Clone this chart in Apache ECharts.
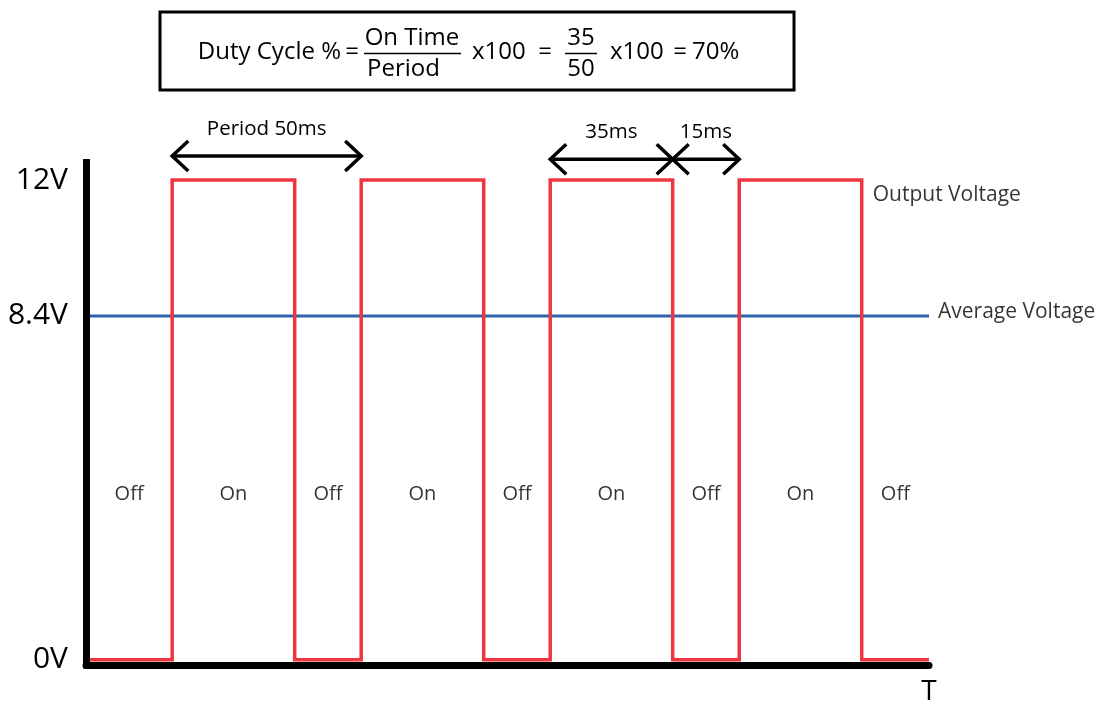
<!DOCTYPE html>
<html><head><meta charset="utf-8">
<script src="https://cdn.jsdelivr.net/npm/echarts@6/dist/echarts.min.js"></script>
<style>html,body{margin:0;padding:0;background:#fff}#chart{width:1097px;height:706px}</style>
</head><body><div id="chart"></div>
<script>
// ---- data (time in ms, voltage in V) ----
const edgeTimes = [0, 22.8, 55.2, 72.8, 105.2, 122.8, 155.2, 172.8, 205.2, 223];
const levels = [0, 12, 0, 12, 0, 12, 0, 12, 0];
const stateNames = ['Off', 'On', 'Off', 'On', 'Off', 'On', 'Off', 'On', 'Off'];
const averageLevel = 8.6;            // position of the drawn "8.4V" average line
const yTickValues = [0, 8.6, 12];
const yTickLabels = ['0V', '8.4V', '12V'];
const xEndLabel = 'T';
const arrowStarts = [22.8, 122.8, 155.2];
const arrowEnds = [72.8, 155.2, 172.8];
const arrowLevels = [12.6, 12.52, 12.52];
const arrowTexts = ['Period 50ms', '35ms', '15ms'];
const stateLabelLevel = 4.15;
const seriesNames = ['Output Voltage', 'Average Voltage'];

const FONT = "'Open Sans', sans-serif";
const RED = '#EF3640';
const BLUE = '#2E62B0';

// build step wave
const wave = [];
for (let i = 0; i < levels.length; i++) {
  wave.push([edgeTimes[i], levels[i]]);
  wave.push([edgeTimes[i + 1], levels[i]]);
}
const tEnd = edgeTimes[edgeTimes.length - 1];
const stateData = stateNames.map((n, i) => [(edgeTimes[i] + edgeTimes[i + 1]) / 2, stateLabelLevel, n]);
const lastHigh = levels.lastIndexOf(12);
const arrowData = arrowStarts.map((s, i) => [s, arrowEnds[i], arrowLevels[i]]);

const chart = echarts.init(document.getElementById('chart'));
const arrowStyle = { stroke: '#000', lineWidth: 3.5, fill: null, lineCap: 'butt' };
const F = '24px ' + FONT;
const txt = (x, y, text, align) => ({ type: 'text', x, y,
  style: { text, font: F, fill: '#000', align: align || 'center', verticalAlign: 'middle' } });

chart.setOption({
  animation: false,
  backgroundColor: '#fff',
  grid: { left: 86, right: 168, top: 162.5, bottom: 37 },
  xAxis: {
    type: 'value', min: 0, max: tEnd, z: 5,
    axisLine: { show: true, onZero: false, lineStyle: { color: '#000', width: 7 } },
    axisTick: { show: false },
    splitLine: { show: false },
    axisLabel: {
      customValues: [tEnd], formatter: () => xEndLabel,
      margin: 13, color: '#000', fontSize: 28, fontFamily: FONT
    }
  },
  yAxis: {
    type: 'value', min: -0.1315, max: 12.437, z: 5,
    axisLine: { show: true, lineStyle: { color: '#000', width: 7, cap: 'square' } },
    axisTick: { show: false },
    splitLine: { show: false },
    axisLabel: {
      customValues: yTickValues,
      formatter: (v) => yTickLabels[yTickValues.indexOf(v)],
      margin: 18, color: '#000', fontSize: 30, fontFamily: FONT
    }
  },
  graphic: [
    { type: 'rect', shape: { x: 160, y: 12, width: 634, height: 78 },
      style: { fill: 'none', stroke: '#000', lineWidth: 3 } },
    txt(341, 52, 'Duty Cycle %', 'right'),
    txt(352, 52, '='),
    txt(412, 38, 'On Time'),
    { type: 'line', shape: { x1: 364, y1: 53.5, x2: 461, y2: 53.5 }, style: { stroke: '#000', lineWidth: 1.5 } },
    txt(367, 69, 'Period', 'left'),
    txt(472, 52, 'x100', 'left'),
    txt(545, 52, '='),
    txt(581, 38, '35'),
    { type: 'line', shape: { x1: 565, y1: 53.5, x2: 597, y2: 53.5 }, style: { stroke: '#000', lineWidth: 1.5 } },
    txt(581, 69, '50'),
    txt(610, 52, 'x100', 'left'),
    txt(680, 52, '='),
    txt(692, 52, '70%', 'left')
  ],
  series: [
    {
      name: seriesNames[1], type: 'line', data: [[0, averageLevel], [tEnd, averageLevel]],
      symbol: 'none', lineStyle: { color: BLUE, width: 3 }, z: 2
    },
    {
      name: seriesNames[0], type: 'line', data: wave,
      symbol: 'none', lineStyle: { color: RED, width: 3.5, join: 'miter' }, z: 3
    },
    {
      type: 'scatter', data: stateData, symbolSize: 0, z: 4,
      label: { show: true, position: 'inside', formatter: (p) => p.value[2],
        color: '#000', fontSize: 20, fontFamily: FONT }
    },
    {
      type: 'scatter', symbolSize: 0, z: 4,
      data: [
        { value: [edgeTimes[lastHigh + 1], 12, seriesNames[0]],
          label: { position: 'right', distance: 5, offset: [6, 15] } },
        { value: [tEnd, averageLevel, seriesNames[1]],
          label: { position: 'right', distance: 9, offset: [0, -4] } }
      ],
      label: { show: true, formatter: (p) => p.value[2], color: '#000', fontSize: 21, fontFamily: FONT }
    },
    {
      type: 'custom', data: arrowData, clip: false, z: 4,
      renderItem: (params, api) => {
        const a = api.coord([api.value(0), api.value(2)]);
        const b = api.coord([api.value(1), api.value(2)]);
        const h = 15, d = 16;
        return {
          type: 'group',
          children: [
            { type: 'line', shape: { x1: a[0], y1: a[1], x2: b[0], y2: b[1] }, style: arrowStyle },
            { type: 'polyline', shape: { points: [[a[0] + d, a[1] - h], [a[0], a[1]], [a[0] + d, a[1] + h]] }, style: arrowStyle },
            { type: 'polyline', shape: { points: [[b[0] - d, b[1] - h], [b[0], b[1]], [b[0] - d, b[1] + h]] }, style: arrowStyle },
            { type: 'text', x: (a[0] + b[0]) / 2, y: a[1] - 27,
              style: { text: arrowTexts[params.dataIndex], font: '20.5px ' + FONT, fill: '#000', align: 'center', verticalAlign: 'middle' } }
          ]
        };
      }
    }
  ]
});
</script></body></html>
